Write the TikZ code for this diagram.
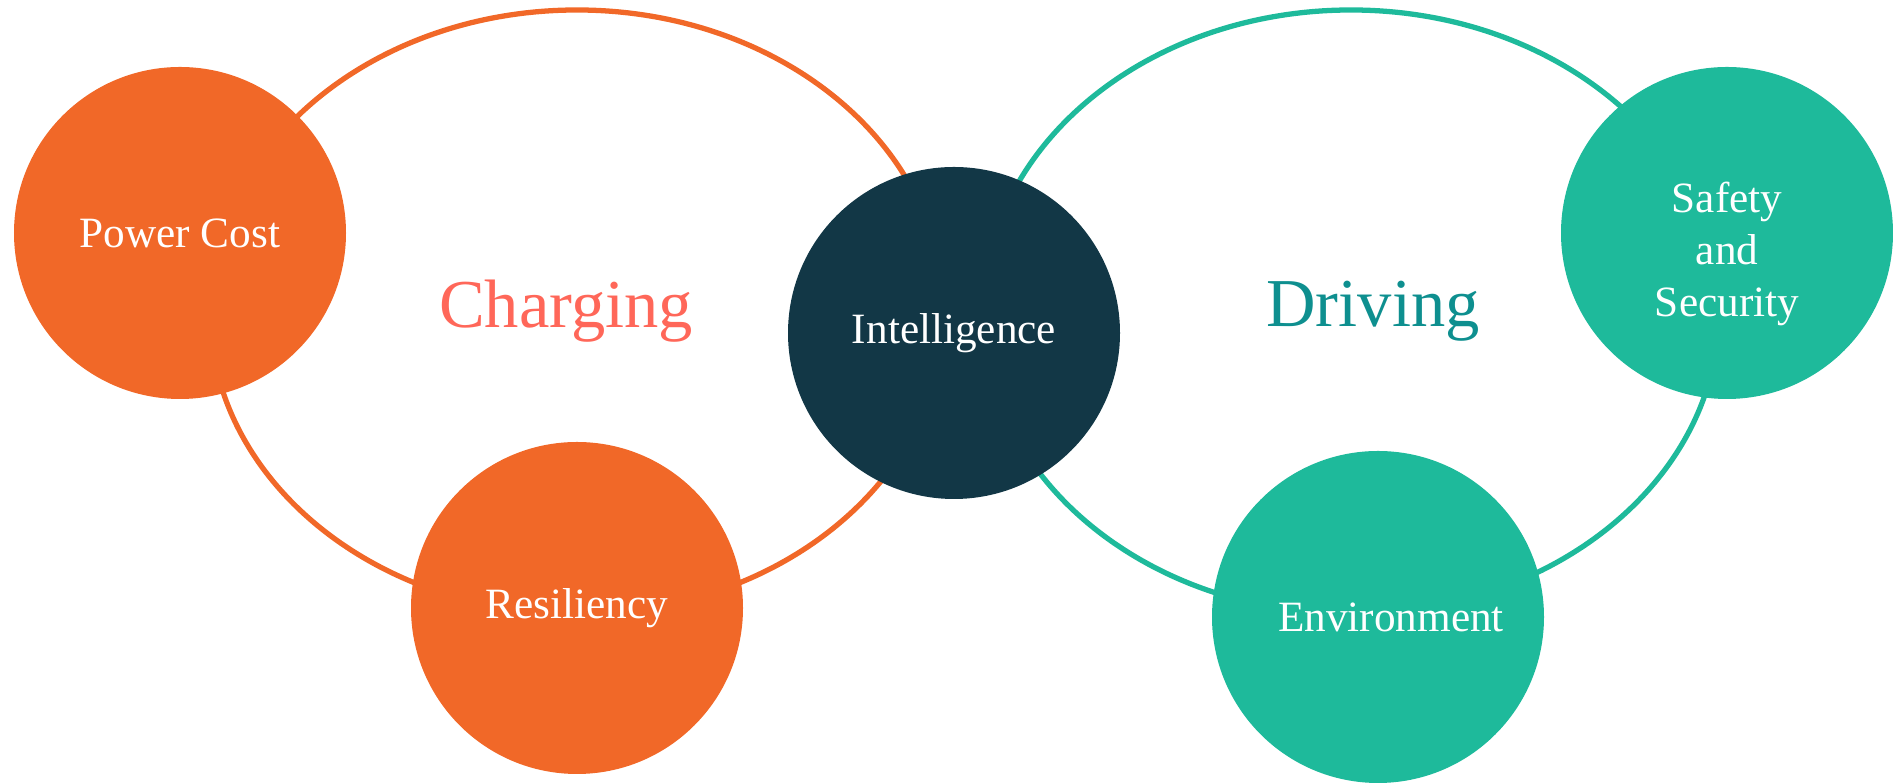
\documentclass[tikz,border=0pt]{standalone}
\usepackage{fontspec}
\setmainfont{Liberation Serif}
\definecolor{chargeorange}{HTML}{F16828}
\definecolor{chargetext}{HTML}{FF6759}
\definecolor{drivegreen}{HTML}{1EBA9B}
\definecolor{drivetext}{HTML}{0E8F8F}
\definecolor{smartnavy}{HTML}{123746}

\begin{document}
\begin{tikzpicture}[dottext/.style={text=white, align=center, font=\fontsize{12.3}{14.8}\selectfont},
	dot/.style={dottext, circle, minimum size=3.32cm, inner sep=0pt},
	ring/.style={line width=1.5pt},
	title/.style={anchor=base, font=\fontsize{19.5}{23}\selectfont}]
	\useasboundingbox (0,0) rectangle (18.93,7.83);
	\draw[ring, color=chargeorange] (5.77,4.71) ellipse (3.67 and 3.02);
	\draw[ring, color=drivegreen] (13.51,4.71) ellipse (3.68 and 3.02);
	\node[dot, fill=chargeorange] (power) at (1.80,5.50) {Power Cost};
	\node[dot, fill=chargeorange] (resiliency) at (5.77,1.75) {Resiliency};
	\node[dot, fill=smartnavy] (intelligence) at (9.54,4.50) {Intelligence};
	\node[dot, fill=drivegreen] (safety) at (17.27,5.50) {};
	\node[dottext] (safetytext) at ([yshift=-2.1mm]safety.center) {Safety\\and\\Security};
	\node[dot, fill=drivegreen] (environment) at (13.78,1.66) {\hspace*{2.6mm}Environment};
	\node[title, text=chargetext] (charging) at (5.66,4.55) {Charging};
	\node[title, text=drivetext] (driving) at (13.73,4.56) {Driving};
\end{tikzpicture}
\end{document}
